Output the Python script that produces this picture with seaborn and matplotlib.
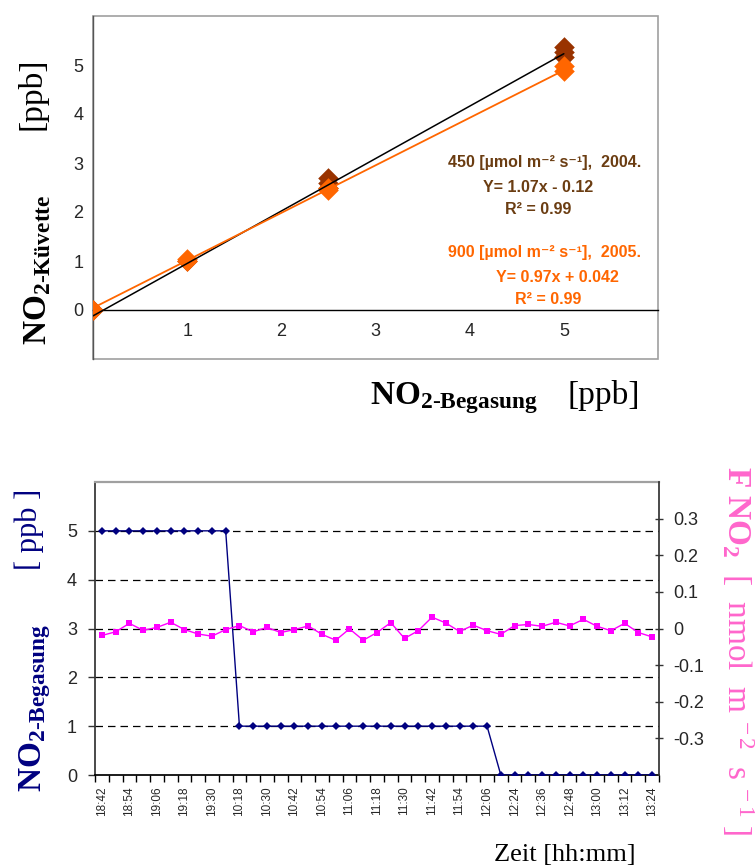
import numpy as np
import pandas as pd
import matplotlib
matplotlib.use("Agg")
import matplotlib.pyplot as plt
from matplotlib.patches import Rectangle
import seaborn as sns

# ---------------- data: top chart ----------------
conc_450 = [0, 1, 2.5, 2.5, 2.5, 5, 5, 5]
meas_450 = [0, 1.0, 2.7, 2.6, 2.5, 5.37, 5.27, 5.17]
conc_900 = [0, 1, 1, 2.5, 2.5, 5, 5]
meas_900 = [0, 1.0, 1.05, 2.5, 2.45, 4.97, 4.87]
fit_slope = [1.07, 0.97]
fit_intercept = [-0.12, 0.042]
top_xticks = [1, 2, 3, 4, 5]
top_yticks = [0, 1, 2, 3, 4, 5]

# ---------------- data: bottom chart ----------------
times = ["18:42", "18:48", "18:54", "19:00", "19:06", "19:12", "19:18", "19:24",
         "19:30", "19:36", "10:18", "10:24", "10:30", "10:36", "10:42", "10:48",
         "10:54", "11:00", "11:06", "11:12", "11:18", "11:24", "11:30", "11:36",
         "11:42", "11:48", "11:54", "12:00", "12:06", "12:12", "12:24", "12:30",
         "12:36", "12:42", "12:48", "12:54", "13:00", "13:06", "13:12", "13:18",
         "13:24"]
no2_begasung = [5, 5, 5, 5, 5, 5, 5, 5, 5, 5,
                1, 1, 1, 1, 1, 1, 1, 1, 1, 1, 1, 1, 1, 1, 1, 1, 1, 1, 1,
                0, 0, 0, 0, 0, 0, 0, 0, 0, 0, 0, 0]
fno2 = [-0.019, -0.009, 0.014, -0.005, 0.003, 0.017, -0.003, -0.015, -0.021, -0.003,
        0.008, -0.009, 0.003, -0.011, -0.003, 0.007, -0.016, -0.032, -0.001, -0.032,
        -0.011, 0.016, -0.027, -0.006, 0.031, 0.015, -0.008, 0.009, -0.006, -0.016,
        0.008, 0.011, 0.006, 0.017, 0.007, 0.025, 0.006, -0.006, 0.014, -0.011,
        -0.023]
left_yticks = [0, 1, 2, 3, 4, 5]
right_yticks = [0.3, 0.2, 0.1, 0, -0.1, -0.2, -0.3]
right_yticklabels = ["0.3", "0.2", "0.1", "0", "-0.1", "-0.2", "-0.3"]

# ---------------- style ----------------
sns.set_theme(style="white")
plt.rcParams["font.family"] = ["Liberation Sans", "DejaVu Sans"]
plt.rcParams["mathtext.fontset"] = "custom"
plt.rcParams["mathtext.rm"] = "Liberation Serif"
plt.rcParams["mathtext.bf"] = "Liberation Serif:bold"
plt.rcParams["mathtext.it"] = "Liberation Serif:italic"

BROWN_M = "#993300"
BROWN_T = "#6b3d12"
ORANGE = "#ff6600"
NAVY = "#000080"
MAGENTA = "#ff00ff"
PINK = "#ff66cc"
GRAY = "#a0a0a0"

W, H = 755, 866
fig = plt.figure(figsize=(W / 100, H / 100), dpi=100)

def fx(px):
    return px / W

def fy(py):
    return 1 - py / H

# ================= top chart =================
ax1 = fig.add_axes([fx(93), fy(359), fx(658) - fx(93), fy(16) - fy(359)])
df450 = pd.DataFrame({"x": conc_450, "y": meas_450})
df900 = pd.DataFrame({"x": conc_900, "y": meas_900})
sns.scatterplot(data=df450, x="x", y="y", marker="D", s=110, color=BROWN_M,
                linewidth=0, ax=ax1, zorder=3)
sns.scatterplot(data=df900, x="x", y="y", marker="D", s=110, color=ORANGE,
                linewidth=0, ax=ax1, zorder=3)
xr = np.array([min(conc_450), max(conc_450)])
sns.lineplot(x=xr, y=fit_slope[0] * xr + fit_intercept[0], color="black", lw=1.1,
             ax=ax1, zorder=4)
xr2 = np.array([min(conc_900), max(conc_900)])
sns.lineplot(x=xr2, y=fit_slope[1] * xr2 + fit_intercept[1], color=ORANGE, lw=1.3,
             ax=ax1, zorder=4)
ax1.set_xlim(0, 6)
ax1.set_ylim(-1, 6)
for s in ["top", "right"]:
    ax1.spines[s].set_visible(False)
ax1.add_patch(Rectangle((0, 0), 1, 1, transform=ax1.transAxes, fill=False,
                        edgecolor=GRAY, lw=1.2, zorder=0, clip_on=False))
ax1.spines["bottom"].set_position(("data", 0))
ax1.spines["bottom"].set_color("black")
ax1.spines["bottom"].set_linewidth(1.0)
ax1.spines["left"].set_color("#555555")
ax1.spines["left"].set_linewidth(1.0)
ax1.set_xticks(top_xticks)
ax1.set_xticklabels([str(v) for v in top_xticks], fontsize=13)
ax1.set_yticks(list(range(-1, 7)))
ax1.set_yticklabels(["" if v not in top_yticks else str(v) for v in range(-1, 7)],
                    fontsize=13)
ax1.tick_params(axis="x", direction="out", length=4, width=1, pad=5, color="black")
ax1.tick_params(axis="y", direction="out", length=4, width=1, pad=3, color="#555555")
ax1.set_xlabel("")
ax1.set_ylabel("")
ax1.grid(False)

ann = [
    ("450 [µmol m⁻² s⁻¹],  2004.", 545, 162, BROWN_T),
    ("Y= 1.07x - 0.12", 538, 187, BROWN_T),
    ("R² = 0.99", 538, 209, BROWN_T),
    ("900 [µmol m⁻² s⁻¹],  2005.", 545, 253, ORANGE),
    ("Y= 0.97x + 0.042", 557, 278, ORANGE),
    ("R² = 0.99", 548, 300, ORANGE),
]
for txt, x, y, c in ann:
    fig.text(fx(x), fy(y), txt, color=c, fontsize=11.5, fontweight="bold",
             ha="center", va="center", family=["Liberation Sans", "DejaVu Sans"])

# top axis titles
fig.text(fx(38), fy(345), r"$\mathbf{NO}_{\mathbf{2\text{-}Küvette}}$", rotation=90,
         fontsize=24, ha="center", va="bottom", color="black")
fig.text(fx(32), fy(57), "[ppb]", rotation=90, fontsize=24, ha="center", va="top",
         color="black", family="Liberation Serif")
fig.text(fx(370), fy(404), r"$\mathbf{NO}_{\mathbf{2\text{-}Begasung}}$",
         fontsize=24, ha="left", va="baseline", color="black")
fig.text(fx(567), fy(404), "[ppb]", fontsize=24, ha="left", va="baseline",
         color="black", family="Liberation Serif")

# ================= bottom chart =================
ax2 = fig.add_axes([fx(95), fy(775), fx(659) - fx(95), fy(482) - fy(775)])
idx = np.arange(len(times))
for yv in left_yticks[1:]:
    ax2.axhline(yv, color="black", lw=0.9, ls=(0, (6, 4)), zorder=1)
sns.lineplot(x=idx, y=no2_begasung, color=NAVY, lw=1.0, marker="D", markersize=3.6,
             markeredgewidth=0, ax=ax2, sort=False, zorder=3)
ax2.set_xlim(-0.5, len(times) - 0.5)
ax2.set_ylim(0, 6)
ax2.set_xticks(idx[::2])
ax2.set_xticklabels(times[::2], rotation=90, fontsize=8.5)
ax2.set_xticks(np.arange(-0.5, len(times), 1.0), minor=True)
ax2.tick_params(axis="x", which="major", length=0, pad=8)
ax2.tick_params(axis="x", which="minor", direction="out", length=5, width=1,
                color="black", bottom=True)
ax2.set_yticks(left_yticks)
ax2.set_yticklabels([str(v) for v in left_yticks], fontsize=13)
ax2.tick_params(axis="y", direction="out", length=5, width=1, pad=8, color="#333333",
                left=True)
ax2.spines["left"].set_color("#333333")
ax2.spines["bottom"].set_color("black")
ax2.spines["top"].set_color(GRAY)
ax2.spines["top"].set_linestyle((0, (8, 1)))
ax2.spines["top"].set_linewidth(1.6)
ax2.spines["right"].set_visible(False)
ax2.set_xlabel("")
ax2.set_ylabel("")
ax2.grid(False)

ax3 = ax2.twinx()
sns.lineplot(x=idx, y=fno2, color=MAGENTA, lw=1.0, marker="s", markersize=4.2,
             markeredgewidth=0, ax=ax3, sort=False, zorder=3)
ax3.set_ylim(-0.4, 0.4)
ax3.set_yticks(right_yticks)
ax3.set_yticklabels(right_yticklabels, fontsize=13)
ax3.tick_params(axis="y", direction="inout", length=6, width=1, pad=7, color="#333333",
                right=True)
for s in ["left", "top", "bottom"]:
    ax3.spines[s].set_visible(False)
ax3.spines["right"].set_color("#333333")
ax3.set_ylabel("")
ax3.grid(False)

# bottom axis titles
fig.text(fx(35), fy(792), r"$\mathbf{NO}_{\mathbf{2\text{-}Begasung}}$", rotation=90,
         fontsize=24, ha="center", va="bottom", color=NAVY)
fig.text(fx(29), fy(489), "[ ppb ]", rotation=90, fontsize=22, ha="center", va="top",
         color=NAVY, family="Liberation Serif")
fig.text(fx(738), fy(466),
         r"$\mathbf{F\ NO}_{\mathbf{2}}\ \ [\ \ \mathrm{nmol}\ \ \mathrm{m}^{\ -2}\ \ \mathrm{s}^{\ -1}\ ]$",
         rotation=270, fontsize=24, ha="center", va="top", color=PINK)
fig.text(fx(565), fy(861), "Zeit [hh:mm]", fontsize=19, ha="center", va="baseline",
         color="black", family="Liberation Serif")

fig.savefig("out.png", dpi=100)
